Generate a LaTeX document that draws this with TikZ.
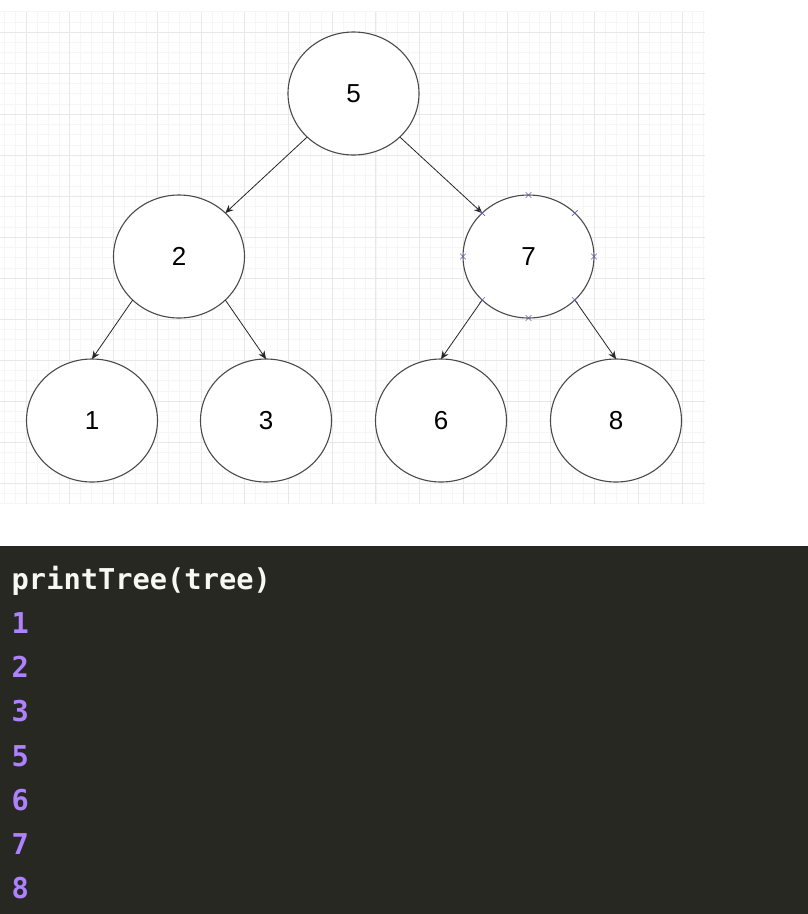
\documentclass[tikz,border=0pt]{standalone}
\usepackage{fontspec}
\setmainfont{Liberation Sans}
\newfontfamily\codefont{DejaVu Sans Mono}
\usetikzlibrary{arrows.meta,shapes.geometric,shapes.misc}
\definecolor{panel}{HTML}{272822}
\definecolor{codewhite}{HTML}{F8F8F2}
\definecolor{codepurple}{HTML}{AE81FF}
\definecolor{gridminor}{HTML}{F6F6F6}
\definecolor{gridmajor}{HTML}{E8E8E8}
\definecolor{circborder}{HTML}{4A4A4A}
\definecolor{handle}{HTML}{6565B8}
\begin{document}
\begin{tikzpicture}[x=1pt,y=-1pt,
  treenode/.style={ellipse, draw=circborder, line width=1.1pt, fill=white,
    minimum width=131pt, minimum height=123pt, inner sep=0pt, outer sep=0pt,
    font=\fontsize{26}{27}\selectfont},
  edge/.style={draw=black!85, line width=0.8pt, -{Stealth[length=8pt,width=7pt]}},
  codeline/.style={anchor=base west, inner sep=0pt,
    font=\codefont\bfseries\fontsize{28.7}{30}\selectfont},
  handlemark/.style={cross out, draw=handle, line width=0.6pt, minimum size=5pt, inner sep=0pt},
]
\useasboundingbox (0,0) rectangle (808,914);
\fill[white] (0,0) rectangle (808,914);
% grid
\foreach \k in {0,...,64} {
  \draw[gridminor, line width=0.5pt] ({4.14+10.93*\k},11.5) -- ({4.14+10.93*\k},504);
}
\foreach \k in {0,...,48} {
  \draw[gridminor, line width=0.5pt] (0,{11.5+10.25*\k}) -- (705,{11.5+10.25*\k});
}
\foreach \k in {0,...,15} {
  \draw[gridmajor, line width=0.8pt] ({26+43.73*\k},11.5) -- ({26+43.73*\k},504);
}
\foreach \k in {0,...,11} {
  \draw[gridmajor, line width=0.8pt] (0,{32+41*\k}) -- (705,{32+41*\k});
}
% tree
\node[treenode] (n5) at (353.5,93.5) {5};
\node[treenode] (n2) at (179,256.5) {2};
\node[treenode] (n7) at (528.5,256.5) {7};
\node[treenode] (n1) at (92,420.5) {1};
\node[treenode] (n3) at (266,420.5) {3};
\node[treenode] (n6) at (441,420.5) {6};
\node[treenode] (n8) at (616,420.5) {8};
\draw[edge] (n5.south west) -- (n2.north east);
\draw[edge] (n5.south east) -- (n7.north west);
\draw[edge] (n2.south west) -- (n1.north);
\draw[edge] (n2.south east) -- (n3.north);
\draw[edge] (n7.south west) -- (n6.north);
\draw[edge] (n7.south east) -- (n8.north);
\foreach \a [count=\i] in {north,north east,east,south east,south,south west,west,north west} {
  \node[handlemark] (h\i) at (n7.\a) {};
}
% code panel
\fill[panel] (0,546) rectangle (808,914);
\node[codeline, text=codewhite] (c0) at (11.5,589) {printTree(tree)};
\foreach \v/\y [count=\i] in {1/633,2/677,3/721,5/766,6/810,7/854,8/898} {
  \node[codeline, text=codepurple] (c\i) at (11.5,\y) {\v};
}
\end{tikzpicture}
\end{document}
